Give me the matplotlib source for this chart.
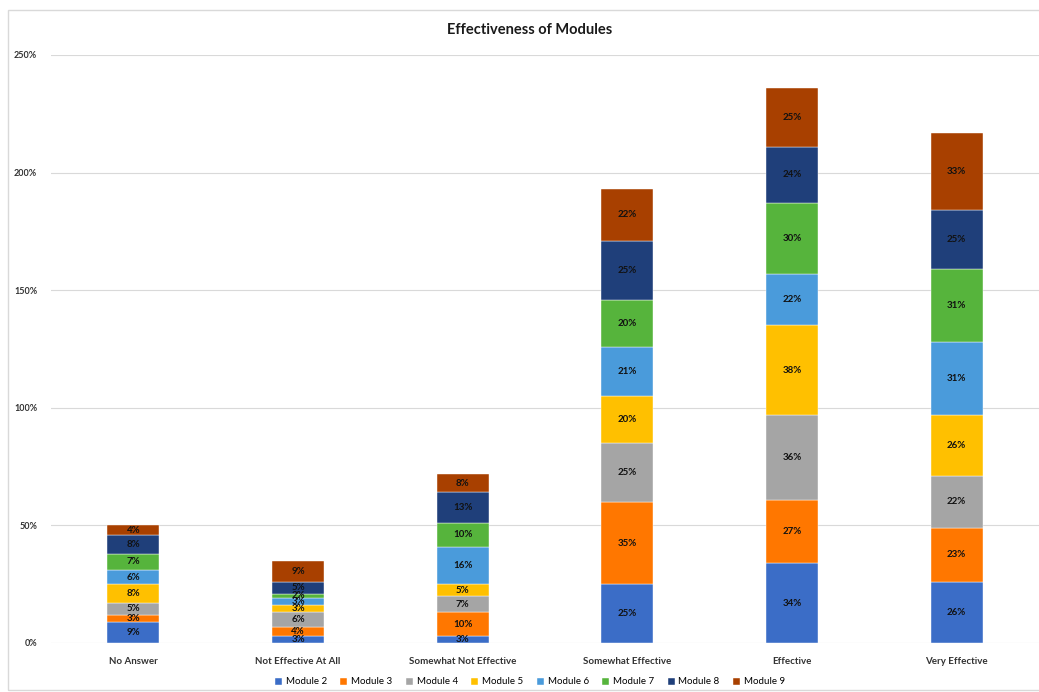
import numpy as np
import matplotlib.pyplot as plt
from matplotlib.patches import Rectangle
from matplotlib.ticker import FuncFormatter

plt.rcParams['font.family'] = ['Lato', 'DejaVu Sans']

categories = ['No Answer', 'Not Effective At All', 'Somewhat Not Effective',
              'Somewhat Effective', 'Effective', 'Very Effective']
modules = ['Module 2', 'Module 3', 'Module 4', 'Module 5',
           'Module 6', 'Module 7', 'Module 8', 'Module 9']

# percent per module, one list per category order
module2 = [9, 3, 3, 25, 34, 26]
module3 = [3, 4, 10, 35, 27, 23]
module4 = [5, 6, 7, 25, 36, 22]
module5 = [8, 3, 5, 20, 38, 26]
module6 = [6, 3, 16, 21, 22, 31]
module7 = [7, 2, 10, 20, 30, 31]
module8 = [8, 5, 13, 25, 24, 25]
module9 = [4, 9, 8, 22, 25, 33]

series = [module2, module3, module4, module5, module6, module7, module8, module9]
colors = ['#3B6DC7', '#FF7700', '#A5A5A5', '#FFC000',
          '#4A9BDB', '#56B43C', '#1F3F7A', '#A84000']

fig = plt.figure(figsize=(10.39, 6.92), dpi=100)
ax = fig.add_axes([51 / 1039, 49 / 692, 988 / 1039, 588 / 692])

# excel-ish chart frame
fig.patches.append(Rectangle((8 / 1039, 2 / 692), 1.0, 680 / 692,
                             transform=fig.transFigure, fill=False,
                             edgecolor='#D9D9D9', lw=1.0, zorder=0))

x = np.arange(len(categories))
bottom = np.zeros(len(categories))
for name, vals, c in zip(modules, series, colors):
    vals = np.array(vals, dtype=float)
    ax.bar(x, vals, 0.315, bottom=bottom, color=c, label=name, zorder=3,
           edgecolor='white', linewidth=0.3)
    for xi, b, v in zip(x, bottom, vals):
        ax.text(xi, b + v / 2, '%d%%' % v, ha='center', va='center',
                fontsize=7, fontweight='bold', color='#111111', zorder=4)
    bottom += vals

ax.set_xlim(-0.5, len(categories) - 0.5)
ax.set_ylim(0, 250)
ax.set_yticks(np.arange(0, 251, 50))
ax.yaxis.set_major_formatter(FuncFormatter(lambda v, p: '%d%%' % v))
ax.grid(axis='y', color='#D9D9D9', lw=0.8, zorder=0)
for s in ax.spines.values():
    s.set_visible(False)
ax.tick_params(axis='both', length=0)
ax.tick_params(axis='y', labelsize=6.5, pad=10)
ax.tick_params(axis='x', labelsize=7, pad=10)
for lbl in ax.get_yticklabels() + ax.get_xticklabels():
    lbl.set_fontweight('bold')
    lbl.set_color('#333333')
ax.set_xticks(x)
ax.set_xticklabels(categories)

fig.text(530 / 1039, 1 - 30 / 692, 'Effectiveness of Modules', ha='center',
         va='center', fontsize=10.5, fontweight='bold', color='#1a1a1a')

ax.legend(loc='center', bbox_to_anchor=(530 / 1039, 10 / 692),
          bbox_transform=fig.transFigure, ncol=8, frameon=False,
          fontsize=7, handlelength=0.7, handleheight=0.7,
          handletextpad=0.4, columnspacing=1.4)

fig.savefig('out.png', dpi=100)
